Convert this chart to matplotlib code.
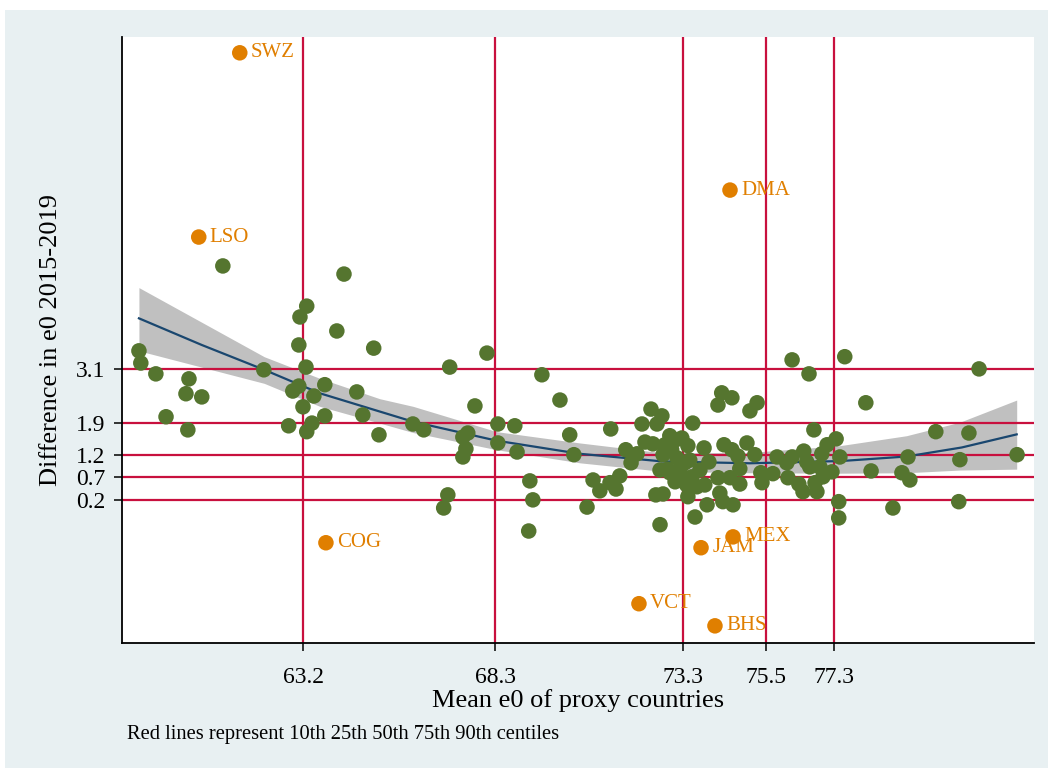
import matplotlib
matplotlib.use("Agg")
import matplotlib.pyplot as plt
from matplotlib.patches import Rectangle

# ---------------- data ----------------
# green scatter: mean e0 of proxy countries (x) vs difference in e0 2015-2019 (y)
pts_x = [58.83, 58.88, 59.28, 59.55, 60.08, 60.16, 60.13, 60.50, 61.06, 62.15,
         62.81, 62.92, 63.08, 63.08, 63.11, 63.29, 63.19, 63.27, 63.29, 63.43,
         63.48, 63.77, 63.77, 64.09, 64.28, 64.62, 64.78, 65.07, 65.21, 66.11,
         66.40, 66.93, 67.04, 67.09, 67.44, 67.52, 67.44, 67.57, 67.76, 68.08,
         68.37, 68.37, 68.82, 68.88, 69.22, 69.30, 69.19, 69.54, 70.02, 70.28,
         70.39, 70.74, 70.90, 71.08, 71.35, 71.51, 71.61, 71.37, 71.77, 72.07,
         71.91, 72.20, 72.44, 72.73, 72.60, 72.28, 72.49, 72.94, 72.57, 72.76,
         72.68, 73.26, 72.81, 73.42, 73.85, 73.55, 72.76, 73.13, 72.89, 73.34,
         73.98, 72.94, 73.26, 73.53, 73.08, 73.39, 73.66, 73.87, 73.42, 73.61,
         73.93, 74.22, 74.27, 74.35, 74.62, 74.54, 74.80, 74.80, 74.32, 74.59,
         74.22, 75.26, 75.07, 74.38, 74.59, 74.75, 74.99, 75.20, 75.36, 75.39,
         75.68, 75.79, 76.05, 76.08, 76.19, 76.19, 76.64, 77.59, 76.50, 76.58,
         76.66, 76.37, 76.80, 76.48, 76.85, 76.77, 76.98, 76.93, 77.12, 77.36,
         77.46, 77.25, 77.01, 77.43, 77.43, 78.15, 78.29, 78.87, 79.11, 79.27,
         79.32, 80.01, 80.62, 80.65, 80.89, 81.16, 82.17, 72.99, 73.21, 72.68,
         73.47, 73.74, 73.10]
pts_y = [3.50, 3.23, 2.99, 2.04, 2.55, 2.88, 1.75, 2.48, 5.38, 3.08,
         1.84, 2.61, 2.72, 3.63, 4.25, 4.49, 2.26, 3.14, 1.71, 1.90,
         2.50, 2.75, 2.06, 3.94, 5.20, 2.59, 2.08, 3.56, 1.64, 1.88,
         1.75, 0.02, 0.31, 3.14, 1.59, 1.33, 1.15, 1.68, 2.28, 3.45,
         1.88, 1.46, 1.84, 1.26, 0.62, 0.20, -0.49, 2.97, 2.41, 1.64,
         1.20, 0.04, 0.64, 0.40, 0.58, 0.44, 0.73, 1.77, 1.31, 1.22,
         1.02, 1.88, 2.21, 2.06, 1.88, 1.48, 1.44, 1.62, 0.31, 0.33,
         -0.35, 1.57, 1.42, 1.40, 1.35, 1.90, 1.20, 1.13, 0.88, 1.02,
         1.04, 0.80, 0.71, 0.71, 0.60, 0.53, 0.49, 0.53, 0.27, -0.18,
         0.09, 0.69, 0.35, 0.16, 0.09, 0.69, 0.55, 0.89, 2.57, 2.46,
         2.30, 2.35, 2.17, 1.42, 1.31, 1.17, 1.46, 1.20, 0.80, 0.58,
         0.78, 1.15, 1.02, 0.69, 1.15, 3.30, 2.99, 3.37, 1.28, 1.04,
         0.93, 0.55, 0.58, 0.38, 0.38, 1.75, 1.22, 0.93, 1.42, 1.55,
         1.15, 0.82, 0.71, 0.16, -0.20, 2.35, 0.84, 0.02, 0.80, 1.15,
         0.64, 1.71, 0.16, 1.09, 1.68, 3.10, 1.20, 1.31, 0.86, 0.86,
         1.08, 0.86, 1.53]

# labelled outliers (orange)
out_lab = ["SWZ", "LSO", "DMA", "COG", "MEX", "JAM", "VCT", "BHS"]
out_x = [61.51, 60.42, 74.54, 63.80, 74.62, 73.77, 72.12, 74.14]
out_y = [10.10, 6.02, 7.06, -0.75, -0.62, -0.86, -2.10, -2.59]

# quadratic fit line and its 95% CI
fit_x = [58.83, 60.5, 62.16, 63.64, 66.12, 68.34, 70.55, 72.76, 75.07, 77.5, 79.23, 80.7, 82.16]
fit_y = [4.22, 3.63, 3.08, 2.56, 1.93, 1.51, 1.22, 1.05, 1.01, 1.06, 1.16, 1.36, 1.65]
ci_x = [58.83, 62.16, 63.64, 65.23, 66.12, 68.34, 70.55, 72.76, 75.07, 77.46, 79.23, 80.65, 82.16]
ci_hi = [4.90, 3.37, 2.89, 2.44, 2.27, 1.71, 1.46, 1.24, 1.25, 1.40, 1.62, 1.92, 2.41]
ci_lo = [3.50, 2.78, 2.27, 1.90, 1.69, 1.31, 1.02, 0.83, 0.80, 0.79, 0.80, 0.86, 0.88]

# centile lines / ticks
x_cent = [63.2, 68.3, 73.3, 75.5, 77.3]
y_cent = [0.2, 0.7, 1.2, 1.9, 3.1]
x_cent_lab = ["63.2", "68.3", "73.3", "75.5", "77.3"]
y_cent_lab = ["0.2", "0.7", "1.2", "1.9", "3.1"]

# ---------------- style ----------------
FONT = ["Liberation Serif", "DejaVu Serif"]
plt.rcParams["font.family"] = FONT
GREEN = "#55752F"
ORANGE = "#E07F00"
RED = "#C8103E"
NAVY = "#1A476F"
BAND = "#C0C0C0"
BG = "#E8F0F2"

fig = plt.figure(figsize=(10.48, 7.69), dpi=100, facecolor="white")
bg = Rectangle((5 / 1048, 1 - 768 / 769), 1 - 5 / 1048, (768 - 10) / 769,
               transform=fig.transFigure, facecolor=BG, edgecolor="none", zorder=-10)
fig.patches.append(bg)

ax = fig.add_axes([122 / 1048, 1 - 643 / 769, (1034 - 122) / 1048, (643 - 37) / 769])
ax.set_zorder(5)
ax.set_facecolor("white")
ax.set_xlim(58.38, 82.62)
ax.set_ylim(-2.97, 10.45)

ax.fill_between(ci_x, ci_lo, ci_hi, color=BAND, linewidth=0, zorder=1)
for v in x_cent:
    ax.axvline(v, color=RED, linewidth=1.6, zorder=2)
for v in y_cent:
    ax.axhline(v, color=RED, linewidth=1.6, zorder=2)
ax.plot(fit_x, fit_y, color=NAVY, linewidth=1.6, zorder=3)
ax.scatter(pts_x, pts_y, s=125, color=GREEN, edgecolors="none", zorder=4)
ax.scatter(out_x, out_y, s=125, color=ORANGE, edgecolors="none", zorder=4)
for lab, xx, yy in zip(out_lab, out_x, out_y):
    ax.annotate(lab, (xx, yy), xytext=(8, 0), textcoords="offset points",
                ha="left", va="center", color=ORANGE, fontsize=15, zorder=5)

for s in ["top", "right"]:
    ax.spines[s].set_visible(False)
for s in ["left", "bottom"]:
    ax.spines[s].set_linewidth(1.3)
    ax.spines[s].set_color("black")

ax.set_xticks(x_cent)
ax.set_xticklabels(x_cent_lab)
ax.set_yticks(y_cent)
ax.set_yticklabels(y_cent_lab)
ax.tick_params(axis="both", direction="out", length=6, width=1.1, labelsize=17)
ax.tick_params(axis="x", pad=11)
ax.tick_params(axis="y", pad=6)

ax.set_xlabel("Mean e0 of proxy countries", fontsize=19, labelpad=1)
ax.set_ylabel("Difference in e0 2015-2019", fontsize=19, labelpad=10)

fig.text(127 / 1048, 1 - 735 / 769, "Red lines represent 10th 25th 50th 75th 90th centiles",
         fontsize=14.8, ha="left", va="center")

fig.savefig("out.png", dpi=100, facecolor=fig.get_facecolor())
